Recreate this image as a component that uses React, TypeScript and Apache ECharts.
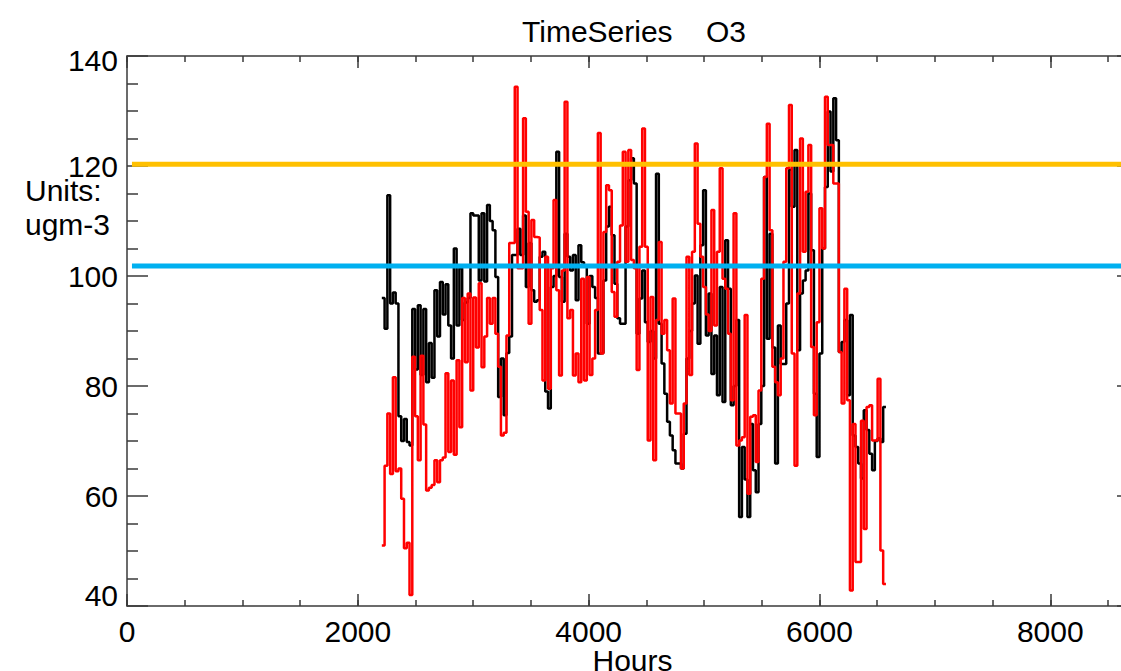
import React, { useEffect, useRef } from "react";
import * as echarts from "echarts";

// Daily O3 values (ugm-3), one step per 24 hours starting at hour 2208.
const START_HOUR = 2208;
const STEP_HOURS = 24;

const blackValues = [
  96, 90.4, 114.7, 95, 97, 95, 74.5, 70, 74, 69.8,
  69.2, 94, 83, 94.7, 82, 94, 80.7, 87.8, 81.5, 97.4,
  89, 98.9, 93, 98.5, 91, 85, 105, 91, 101.4, 92,
  95.2, 96, 111.4, 111, 111, 99.2, 111.4, 99, 112.9, 110,
  108.3, 99.8, 78, 85, 74.7, 86, 89, 103.8, 103.8, 108.6,
  103.8, 111, 98, 106, 97.4, 95.3, 95.6, 103.5, 104.4, 79,
  75.9, 98, 100, 122.6, 99.8, 95.3, 107.7, 103.5, 101, 103.8,
  95.6, 105.6, 102.5, 101.7, 91.3, 100, 98, 96, 85.9, 86,
  99.2, 109, 112.6, 107.4, 98.6, 92.3, 91.3, 91.3, 109, 117.4,
  121.4, 116.8, 89.5, 95.9, 101, 91.6, 88, 90, 85, 118.6,
  91.3, 84.1, 78.6, 73.5, 71, 68.3, 65.9, 65.9, 65, 71.3,
  85, 90, 95, 100.1, 87.7, 105.6, 115.6, 89.2, 96.8, 82.2,
  89.2, 78.3, 98, 77.1, 106.5, 97.7, 76.5, 80, 92, 56.2,
  68.9, 63, 56.2, 73.1, 64.7, 60.7, 73.1, 80, 118, 88.6,
  107.7, 87, 65.9, 91, 84, 84, 95, 119.3, 112.6, 122.9,
  86.5, 96.8, 99.2, 101, 115, 104.7, 78.6, 67.1, 85.9, 105,
  116.2, 129.9, 119, 132.3, 124.7, 86.2, 88, 92, 78.3, 92.9,
  71, 68.9, 65.9, 63.2, 75.6, 72, 67.7, 64.7, 70, 70.5,
  69.8, 76.2, 76.2,
];

const redValues = [
  51, 65.5, 75, 64, 81.6, 64.5, 65, 59.5, 50.5, 51.5,
  42, 85.3, 74.5, 66.5, 85.5, 73, 61, 61.5, 62, 66.5,
  62.5, 66.5, 67, 82.3, 68, 81, 67.5, 84.7, 72.5, 96,
  84.3, 96.8, 79.2, 96.1, 87, 98.7, 83.4, 89, 96, 91.3,
  96, 89.5, 83.5, 71, 71.5, 89.2, 106, 106, 134.4, 101.4,
  101.4, 128.7, 111.7, 91.3, 110.2, 107.1, 107, 93.8, 81, 103.5,
  79.5, 101.4, 113.8, 97.4, 81.9, 101, 131.7, 92.3, 93.8, 81.9,
  85.9, 80.7, 99.5, 81, 99.8, 82, 85, 93.8, 126, 85.9,
  108, 116.5, 115.6, 97.1, 92.6, 102.6, 109.2, 122.6, 102.6, 122.9,
  102.9, 101.4, 82.9, 105.3, 126.8, 105.3, 70.1, 96.2, 66.5, 92,
  106.2, 89.5, 92, 86.5, 76.8, 95.9, 75, 75, 65, 76.8,
  103.5, 82, 104.4, 124.1, 109.5, 103.5, 98, 93, 90, 112,
  91, 104.4, 119.6, 99.5, 97.7, 89.5, 77.4, 111.4, 69.2, 70.1,
  70.7, 92.9, 60.4, 74.4, 74.7, 66.2, 79.2, 99.5, 118, 127.7,
  108.3, 83.5, 80.7, 78.3, 85, 102.6, 119.6, 131.1, 85.9, 65.5,
  96.8, 125, 104.4, 115.3, 123.8, 87.1, 74.7, 91.6, 112.3, 105,
  132.6, 123.8, 123.8, 116.8, 116.8, 86.2, 76.8, 97.7, 77.4, 42.8,
  73.1, 48, 48, 73.7, 54, 76.2, 76.5, 70.1, 70.1, 81.3,
  50.1, 44, 44,
];

// Reference levels drawn across the plot
const upperLevel = 120.3;
const lowerLevel = 101.8;
const levelStartHour = 43;

const X_MIN = 0;
const X_MAX = 8760;
const X_MAJOR = 2000;
const X_MINOR = 500;
const Y_MIN = 40;
const Y_MAX = 140;
const Y_MAJOR = 20;

const unitLines = ["Units:", "ugm-3"];

const FONT = "'Liberation Sans', Arial, Helvetica, sans-serif";
const FONT_SIZE = 30;
const AXIS_COLOR = "#3a3a3a";

const toPoints = (values: number[]) =>
  values.map((v, i) => [START_HOUR + i * STEP_HOURS, v]);

function xAxisDef(position: "top" | "bottom", major: boolean): any {
  return {
    type: "value",
    position,
    min: X_MIN,
    max: X_MAX,
    interval: major ? X_MAJOR : X_MINOR,
    axisLine: { show: major, onZero: false, lineStyle: { color: AXIS_COLOR, width: 1.5 } },
    axisTick: {
      show: true,
      inside: true,
      length: major ? 12 : 6,
      lineStyle: { color: AXIS_COLOR, width: 1.5 },
    },
    axisLabel: {
      show: major && position === "bottom",
      color: "#000",
      fontSize: FONT_SIZE,
      fontFamily: FONT,
      lineHeight: 22,
      margin: 14,
      showMaxLabel: false,
      formatter: (v: number) => String(v),
    },
    splitLine: { show: false },
    ...(major && position === "bottom"
      ? {
          name: "Hours",
          nameLocation: "middle",
          nameGap: 42,
          nameMoveOverlap: false,
          nameTextStyle: { color: "#000", fontSize: FONT_SIZE, fontFamily: FONT, lineHeight: 24 },
        }
      : {}),
  };
}

function yAxisDef(position: "left" | "right"): any {
  return {
    type: "value",
    position,
    min: Y_MIN,
    max: Y_MAX,
    interval: Y_MAJOR,
    axisLine: { show: true, onZero: false, lineStyle: { color: AXIS_COLOR, width: 1.5 } },
    axisTick: { show: true, inside: true, length: 21, lineStyle: { color: AXIS_COLOR, width: 1.5 } },
    minorTick: { show: true, splitNumber: 4, length: 11, lineStyle: { color: AXIS_COLOR, width: 1.5 } },
    axisLabel: {
      show: position === "left",
      color: "#000",
      fontSize: FONT_SIZE,
      fontFamily: FONT,
      lineHeight: 20,
      margin: 9,
      formatter: (v: number) =>
        v === Y_MAX ? `{top|${v}}` : v === Y_MIN ? `{bot|${v}}` : `${v}`,
      rich: {
        top: { fontSize: FONT_SIZE, fontFamily: FONT, color: "#000", lineHeight: 20, padding: [8, 0, 0, 0] },
        bot: { fontSize: FONT_SIZE, fontFamily: FONT, color: "#000", lineHeight: 20, padding: [0, 0, 22, 0] },
      },
    },
    splitLine: { show: false },
  };
}

export default function App() {
  const ref = useRef<HTMLDivElement>(null);

  useEffect(() => {
    if (!ref.current) return;
    const chart = echarts.init(ref.current, undefined, { renderer: "svg" });
    const levelLine = (value: number, color: string) => ({
      type: "line",
      data: [
        [levelStartHour, value],
        [X_MAX, value],
      ],
      symbol: "none",
      lineStyle: { color, width: 5 },
      silent: true,
    });
    chart.setOption({
      animation: false,
      backgroundColor: "#fff",
      title: {
        text: "TimeSeries    O3",
        left: "center",
        top: 11,
        textStyle: { color: "#000", fontSize: FONT_SIZE, fontWeight: "normal", fontFamily: FONT },
      },
      grid: { left: 127, top: 56, width: 1011, height: 550, outerBoundsMode: "none" },
      xAxis: [
        xAxisDef("bottom", true),
        xAxisDef("bottom", false),
        xAxisDef("top", true),
        xAxisDef("top", false),
      ],
      yAxis: [yAxisDef("left"), yAxisDef("right")],
      graphic: unitLines.map((line, i) => ({
        type: "text",
        x: 25,
        y: 190 + i * 34,
        style: {
          text: line,
          fill: "#000",
          font: `${FONT_SIZE}px ${FONT}`,
          verticalAlign: "middle",
          lineHeight: 24,
        },
      })),
      series: [
        {
          name: "black",
          type: "line",
          step: "end",
          data: toPoints(blackValues),
          symbol: "none",
          lineStyle: { color: "#000", width: 2.5 },
          silent: true,
        },
        {
          name: "red",
          type: "line",
          step: "end",
          data: toPoints(redValues),
          symbol: "none",
          lineStyle: { color: "#ff0000", width: 2.5 },
          silent: true,
        },
        levelLine(upperLevel, "#ffc000"),
        levelLine(lowerLevel, "#00b0f0"),
      ],
    });
    return () => chart.dispose();
  }, []);

  return (
    <div
      style={{
        position: "fixed",
        left: 0,
        top: 0,
        width: 1121,
        height: 671,
        overflow: "hidden",
        background: "#fff",
      }}
    >
      <div ref={ref} style={{ width: 1268, height: 671 }} />
    </div>
  );
}
